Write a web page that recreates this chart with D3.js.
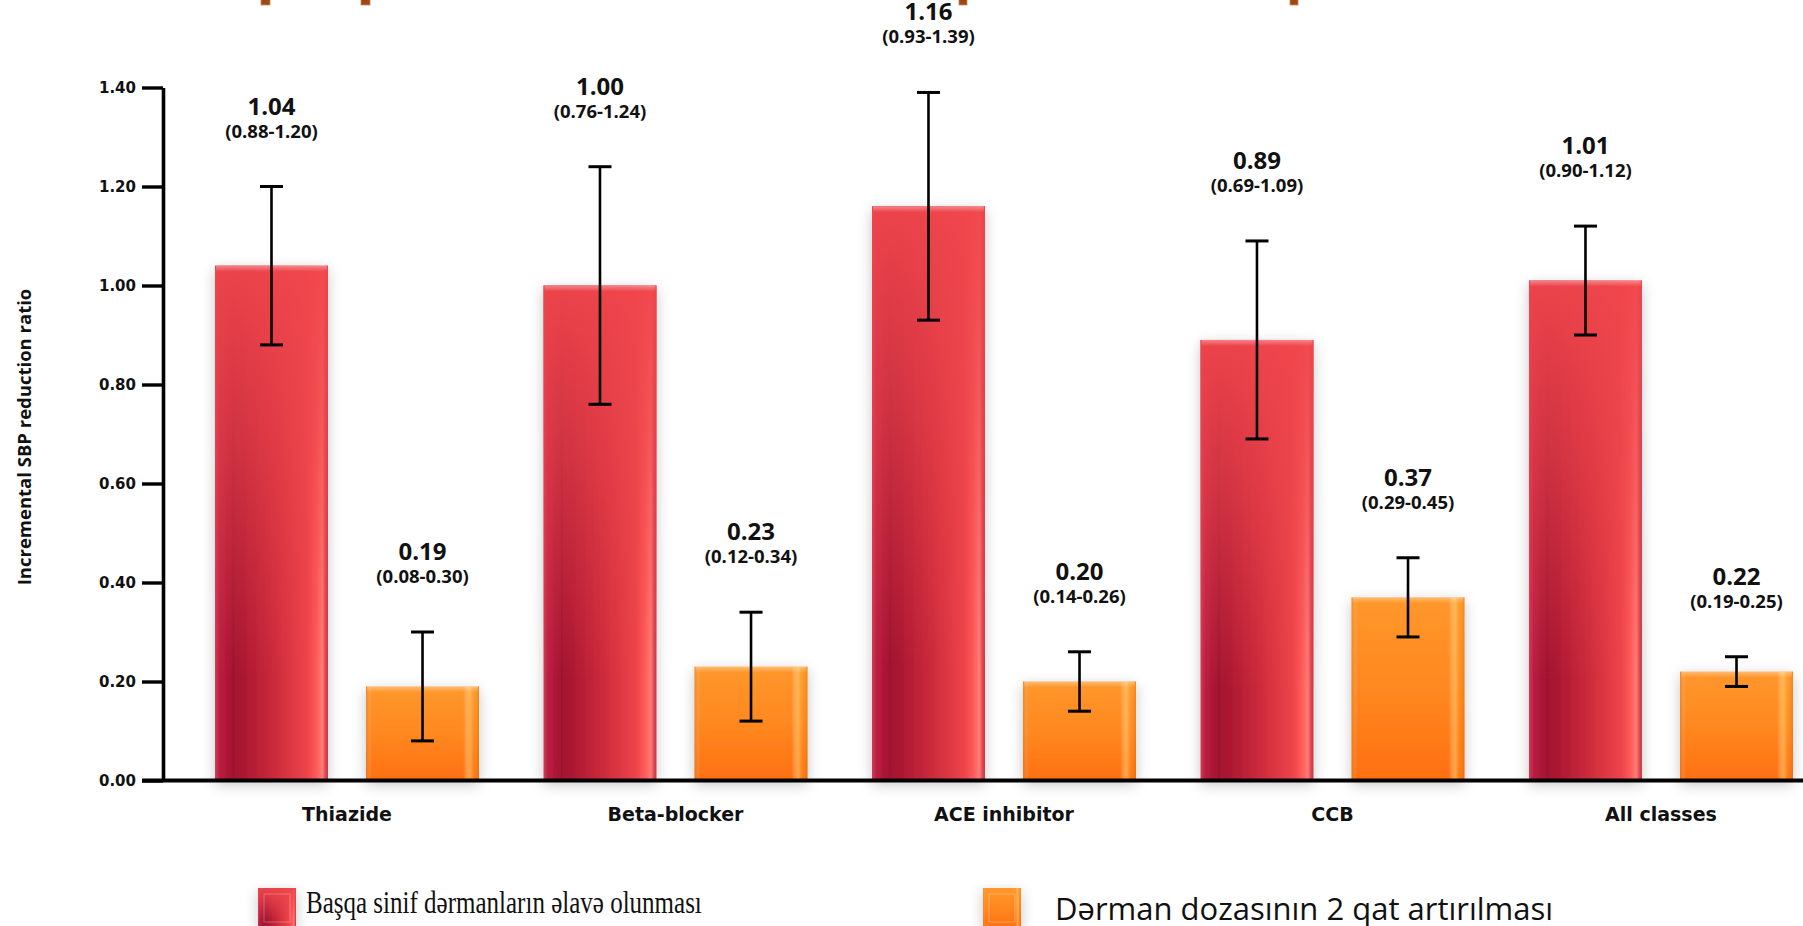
<!DOCTYPE html>
<html>
<head>
<meta charset="utf-8">
<script src="https://cdn.jsdelivr.net/npm/d3@7"></script>
<style>
  html, body { margin: 0; padding: 0; background: #ffffff; }
  svg { display: block; }
</style>
</head>
<body>
<svg id="chart" width="1803" height="926"></svg>
<script>
// ---------- data ----------
const categories = ["Thiazide", "Beta-blocker", "ACE inhibitor", "CCB", "All classes"];
const seriesNames = ["Başqa sinif dərmanların əlavə olunması", "Dərman dozasının 2 qat artırılması"];
const addClassValues = [1.04, 1.00, 1.16, 0.89, 1.01];
const addClassLower  = [0.88, 0.76, 0.93, 0.69, 0.90];
const addClassUpper  = [1.20, 1.24, 1.39, 1.09, 1.12];
const doubleDoseValues = [0.19, 0.23, 0.20, 0.37, 0.22];
const doubleDoseLower  = [0.08, 0.12, 0.14, 0.29, 0.19];
const doubleDoseUpper  = [0.30, 0.34, 0.26, 0.45, 0.25];
const yTicks = [0, 0.2, 0.4, 0.6, 0.8, 1.0, 1.2, 1.4];
const yTitle = "Incremental SBP reduction ratio";

// ---------- setup ----------
const svg = d3.select("#chart");
const W = 1803, H = 926;

const y = d3.scaleLinear().domain([0, 1.4]).range([780.5, 87.5]);
const x0 = d3.scaleBand().domain(categories).range([182.75, 1825.25])
  .paddingInner(0.1963).paddingOuter(0.0982);
const x1 = d3.scaleBand().domain([0, 1]).range([0, x0.bandwidth()]).paddingInner(0.252);

const defs = svg.append("defs");

// red horizontal gradient
const gRed = defs.append("linearGradient").attr("id", "redH").attr("x1", 0).attr("x2", 1).attr("y1", 0).attr("y2", 0);
[[0, "#d23a55"], [0.04, "#bb1f42"], [0.16, "#a0112f"], [0.55, "#cf2c3c"], [0.82, "#ee444a"],
 [0.9, "#ff5c5a"], [0.95, "#ff7e74"], [0.98, "#dc4452"], [1, "#c23646"]]
  .forEach(([o, c]) => gRed.append("stop").attr("offset", o).attr("stop-color", c));
// red vertical overlay (brighter top)
const gRedV = defs.append("linearGradient").attr("id", "redV").attr("x1", 0).attr("x2", 0).attr("y1", 0).attr("y2", 1);
[[0, "#f0464c", 0.95], [0.35, "#ec464c", 0.6], [0.8, "#ec464c", 0]]
  .forEach(([o, c, a]) => gRedV.append("stop").attr("offset", o).attr("stop-color", c).attr("stop-opacity", a));

// orange vertical gradient
const gOr = defs.append("linearGradient").attr("id", "orV").attr("x1", 0).attr("x2", 0).attr("y1", 0).attr("y2", 1);
[[0, "#ff982c"], [0.5, "#ff8820"], [1, "#ff7010"]]
  .forEach(([o, c]) => gOr.append("stop").attr("offset", o).attr("stop-color", c));
// orange horizontal edge highlights
const gOrH = defs.append("linearGradient").attr("id", "orH").attr("x1", 0).attr("x2", 1).attr("y1", 0).attr("y2", 0);
[[0, "#c86a10", 0.35], [0.05, "#ffffff", 0], [0.86, "#ffffff", 0], [0.92, "#ffd070", 0.55],
 [0.96, "#ffb040", 0.1], [1, "#c06000", 0.3]]
  .forEach(([o, c, a]) => gOrH.append("stop").attr("offset", o).attr("stop-color", c).attr("stop-opacity", a));

// top edge highlight
const gTop = defs.append("linearGradient").attr("id", "topHi").attr("x1", 0).attr("x2", 0).attr("y1", 0).attr("y2", 1);
gTop.append("stop").attr("offset", 0).attr("stop-color", "#ffffff").attr("stop-opacity", 0.35);
gTop.append("stop").attr("offset", 1).attr("stop-color", "#ffffff").attr("stop-opacity", 0);

// shadow
const f = defs.append("filter").attr("id", "shadow").attr("x", "-30%").attr("y", "-10%").attr("width", "160%").attr("height", "130%");
f.append("feDropShadow").attr("dx", 0).attr("dy", 4).attr("stdDeviation", 7)
  .attr("flood-color", "#000").attr("flood-opacity", 0.22);

// ---------- decorative cut-off marks at top ----------
[[261, 9], [361, 9], [959, 8], [1290, 8]].forEach(([mx, mw]) => {
  svg.append("rect").attr("x", mx).attr("y", -2).attr("width", mw).attr("height", 7)
    .attr("fill", "#9c4a12").attr("stroke", "#c98a5a").attr("stroke-width", 0.8);
});

// ---------- bars ----------
const series = [
  { vals: addClassValues, lo: addClassLower, hi: addClassUpper, base: "url(#redH)", over: "url(#redV)" },
  { vals: doubleDoseValues, lo: doubleDoseLower, hi: doubleDoseUpper, base: "url(#orV)", over: "url(#orH)" }
];

const barData = [];
categories.forEach((c, i) => {
  series.forEach((s, k) => {
    barData.push({ cat: c, k, v: s.vals[i], lo: s.lo[i], hi: s.hi[i], base: s.base, over: s.over });
  });
});

const barG = svg.append("g");
const bars = barG.selectAll("g.bar").data(barData).join("g").attr("class", "bar")
  .attr("transform", d => `translate(${x0(d.cat) + x1(d.k)},0)`);

bars.append("rect").attr("x", 0).attr("y", d => y(d.v)).attr("width", x1.bandwidth())
  .attr("height", d => y(0) - y(d.v)).attr("fill", d => d.base).attr("filter", "url(#shadow)");
bars.append("rect").attr("x", 0).attr("y", d => y(d.v)).attr("width", x1.bandwidth())
  .attr("height", d => y(0) - y(d.v)).attr("fill", d => d.over);
bars.append("rect").attr("x", 1).attr("y", d => y(d.v)).attr("width", x1.bandwidth() - 2)
  .attr("height", 6).attr("fill", "url(#topHi)");

// ---------- error bars ----------
const cap = 11.5;
const eb = bars.append("g").attr("transform", `translate(${x1.bandwidth() / 2},0)`)
  .attr("stroke", "#000").attr("stroke-width", 2.6).attr("fill", "none");
eb.append("line").attr("x1", 0).attr("x2", 0).attr("y1", d => y(d.hi)).attr("y2", d => y(d.lo));
eb.append("line").attr("x1", -cap).attr("x2", cap).attr("y1", d => y(d.hi)).attr("y2", d => y(d.hi)).attr("stroke-width", 3);
eb.append("line").attr("x1", -cap).attr("x2", cap).attr("y1", d => y(d.lo)).attr("y2", d => y(d.lo)).attr("stroke-width", 3);

// ---------- value labels ----------
const lab = bars.append("g").attr("transform", `translate(${x1.bandwidth() / 2},0)`)
  .attr("text-anchor", "middle").attr("font-family", "'Open Sans', sans-serif").attr("font-weight", 700).attr("fill", "#111");
lab.append("text").attr("y", d => y(d.hi) - 72).attr("font-size", 24).text(d => d.v.toFixed(2));
lab.append("text").attr("y", d => y(d.hi) - 49).attr("font-size", 18.5)
  .text(d => `(${d.lo.toFixed(2)}-${d.hi.toFixed(2)})`);

// ---------- axes ----------
const yAxis = d3.axisLeft(y).tickValues(yTicks).tickFormat(d3.format(".2f"))
  .tickSize(21).tickSizeOuter(0).tickPadding(6);
const yg = svg.append("g").attr("transform", "translate(163,0)").call(yAxis);
yg.select(".domain").attr("stroke", "#000").attr("stroke-width", 3.6);
yg.selectAll(".tick line").attr("stroke", "#000").attr("stroke-width", 3.4);
yg.selectAll(".tick text").attr("font-family", "'DejaVu Sans', sans-serif").attr("font-weight", 700)
  .attr("font-size", 15).attr("fill", "#111");

// x axis baseline
svg.append("line").attr("x1", 142).attr("x2", W).attr("y1", y(0)).attr("y2", y(0))
  .attr("stroke", "#000").attr("stroke-width", 4);

const xAxis = d3.axisBottom(x0).tickSize(0).tickPadding(0);
const xg = svg.append("g").attr("transform", `translate(0,${y(0)})`).call(xAxis);
xg.select(".domain").remove();
xg.selectAll(".tick text").attr("y", 40).attr("dy", 0)
  .attr("font-family", "'DejaVu Sans', sans-serif").attr("font-weight", 700).attr("font-size", 19).attr("fill", "#111");

// y title
svg.append("text").attr("transform", "translate(31,437) rotate(-90)").attr("text-anchor", "middle")
  .attr("font-family", "'Open Sans', sans-serif").attr("font-weight", 700).attr("font-size", 18.5)
  .attr("fill", "#111").text(yTitle);

// ---------- legend ----------
const legendItems = [
  { name: seriesNames[0], x: 258, tx: 306, base: "url(#redH)", over: "url(#redV)", font: "'Liberation Serif', 'Times New Roman', serif", size: 31, sx: 0.807, ty: 913 },
  { name: seriesNames[1], x: 983, tx: 1055, base: "url(#orV)", over: "url(#orH)", font: "'Open Sans', sans-serif", size: 31, sx: 1, ty: 920 }
];
const lg = svg.append("g").selectAll("g").data(legendItems).join("g");
lg.append("rect").attr("x", d => d.x).attr("y", 888).attr("width", 38).attr("height", 40)
  .attr("fill", d => d.base).attr("filter", "url(#shadow)");
lg.append("rect").attr("x", d => d.x).attr("y", 888).attr("width", 38).attr("height", 40)
  .attr("fill", d => d.over);
lg.append("rect").attr("x", d => d.x + 6).attr("y", 894).attr("width", 26).attr("height", 28)
  .attr("fill", "none").attr("stroke", "#ffffff").attr("stroke-opacity", 0.18).attr("stroke-width", 1.5);
lg.append("text").attr("transform", d => `translate(${d.tx},${d.ty}) scale(${d.sx},1)`)
  .attr("font-family", d => d.font).attr("font-size", d => d.size).attr("fill", "#111").text(d => d.name);
</script>
</body>
</html>
